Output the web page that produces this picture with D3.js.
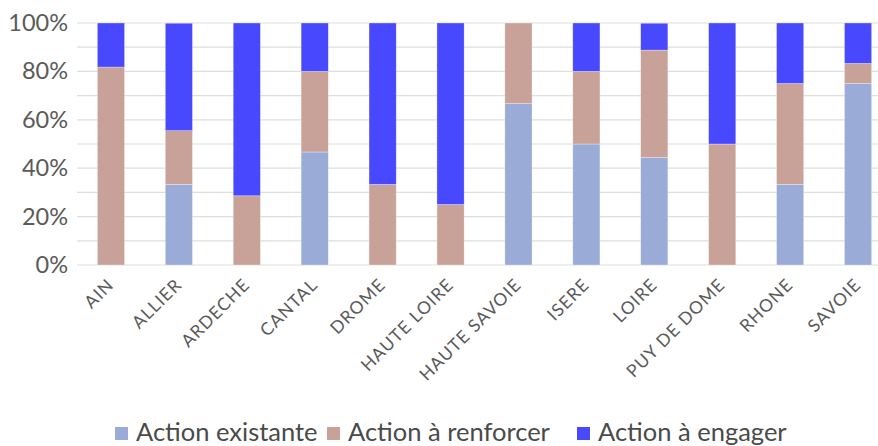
<!DOCTYPE html>
<html>
<head>
<meta charset="utf-8">
<script src="https://cdn.jsdelivr.net/npm/d3@7"></script>
<style>
  body { margin: 0; background: #fff; }
  svg { display: block; font-family: Lato, "Open Sans", sans-serif; }
</style>
</head>
<body>
<svg id="chart" width="878" height="446"></svg>
<script>
const categories = ['AIN', 'ALLIER', 'ARDECHE', 'CANTAL', 'DROME', 'HAUTE LOIRE',
  'HAUTE SAVOIE', 'ISERE', 'LOIRE', 'PUY DE DOME', 'RHONE', 'SAVOIE'];
const seriesNames = ['Action existante', 'Action à renforcer', 'Action à engager'];
const existante = [0, 33.3, 0, 46.7, 0, 0, 66.7, 50, 44.4, 0, 33.3, 75];
const renforcer = [81.8, 22.2, 28.6, 33.3, 33.3, 25, 33.3, 30, 44.4, 50, 41.7, 8.3];
const engager = [18.2, 44.4, 71.4, 20, 66.7, 75, 0, 20, 11.1, 50, 25, 16.7];
const yTicks = [0, 20, 40, 60, 80, 100];
const colors = ['#9aabd8', '#c8a298', '#4848ff'];

const svg = d3.select('#chart');
const margin = { top: 23, left: 77, bottom: 181 };
const height = 446;
const rangeRight = 892;

const rows = categories.map((c, i) => ({
  cat: c, existante: existante[i], renforcer: renforcer[i], engager: engager[i]
}));
const stack = d3.stack().keys(['existante', 'renforcer', 'engager'])(rows);

const x = d3.scaleBand().domain(categories).range([margin.left, rangeRight]).paddingInner(0.6).paddingOuter(0.3);
const y = d3.scaleLinear().domain([0, 100]).range([height - margin.bottom, margin.top]);

// gridlines every 10%
svg.append('g')
  .selectAll('line')
  .data(d3.range(0, 101, 10))
  .join('line')
  .attr('x1', margin.left).attr('x2', 878)
  .attr('y1', d => y(d)).attr('y2', d => y(d))
  .attr('stroke', '#dedede').attr('stroke-width', 1.2);

svg.append('g')
  .selectAll('g')
  .data(stack)
  .join('g')
  .attr('fill', (d, i) => colors[i])
  .selectAll('rect')
  .data(d => d)
  .join('rect')
  .attr('x', d => x(d.data.cat))
  .attr('width', x.bandwidth())
  .attr('y', d => y(d[1]))
  .attr('height', d => y(d[0]) - y(d[1]))
  .attr('stroke', 'rgba(255,255,255,0.5)')
  .attr('stroke-width', 0.6);

const yAxis = svg.append('g')
  .attr('transform', `translate(${margin.left},0)`)
  .call(d3.axisLeft(y).tickValues(yTicks).tickFormat(d => d + '%').tickSize(0).tickPadding(9));
yAxis.select('.domain').remove();
yAxis.selectAll('text')
  .attr('font-size', 23.5)
  .attr('fill', '#5a5a5a')
  .attr('font-family', 'Lato, sans-serif');

const xAxis = svg.append('g')
  .attr('transform', `translate(0,${y(0)})`)
  .call(d3.axisBottom(x).tickSize(0).tickPadding(0));
xAxis.select('.domain').remove();
xAxis.selectAll('text')
  .attr('font-size', 17.5)
  .attr('letter-spacing', 1)
  .attr('fill', '#5a5a5a')
  .attr('font-family', 'Lato, sans-serif')
  .attr('text-anchor', 'end')
  .attr('dy', 0)
  .attr('transform', 'translate(4,21) rotate(-45)');

const legendItems = [
  { name: seriesNames[0], color: colors[0], x: 115 },
  { name: seriesNames[1], color: colors[1], x: 327 },
  { name: seriesNames[2], color: colors[2], x: 577 }
];
const legend = svg.append('g');
const item = legend.selectAll('g').data(legendItems).join('g')
  .attr('transform', d => `translate(${d.x},441)`);
item.append('rect').attr('x', 0).attr('y', -14).attr('width', 13).attr('height', 13)
  .attr('fill', d => d.color);
item.append('text').attr('x', 21).attr('y', 0)
  .attr('font-size', 25.5).attr('fill', '#4a4a4a')
  .text(d => d.name);
</script>
</body>
</html>
